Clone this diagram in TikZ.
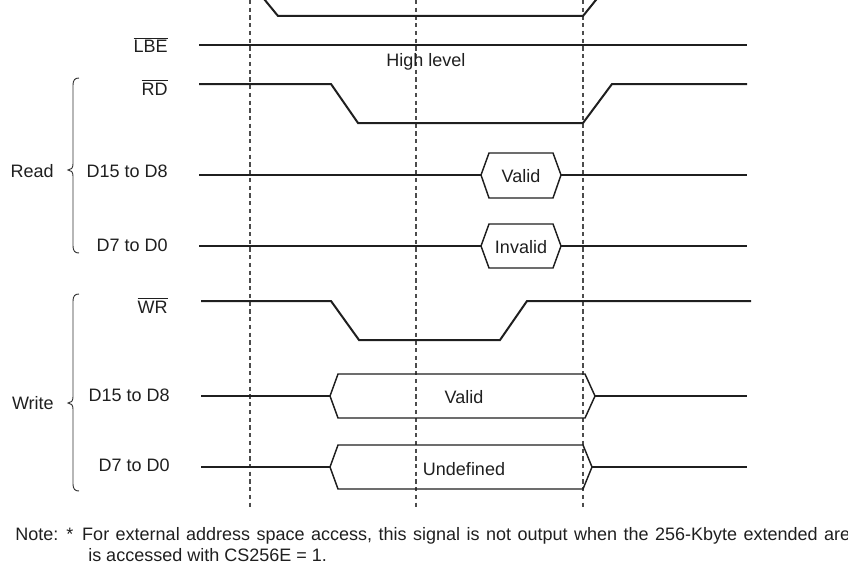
\documentclass[tikz,border=0pt]{standalone}
\usepackage{fontspec}
\setmainfont{Liberation Sans}
\usetikzlibrary{positioning}

\begin{document}
\begin{tikzpicture}[x=0.75pt, y=-0.75pt,
  sig/.style={line width=1.5pt, draw=black!88},
  bus/.style={line width=1.1pt, draw=black!88},
  guide/.style={line width=0.8pt, draw=black!70, dash pattern=on 3.2pt off 2.6pt},
  curly/.style={line width=0.7pt, draw=black!80},
  signame/.style={anchor=base east, inner sep=0pt,
                  font=\fontsize{13.5}{16}\selectfont, text=black!88},
  busval/.style={signame, anchor=base},
  note/.style={signame, anchor=base west}
]
\useasboundingbox (0,0) rectangle (848,567);
\draw[guide] (250,0) -- (250,510);
\draw[guide] (416,0) -- (416,510);
\draw[guide] (583,0) -- (583,510);
\begin{scope}
  \clip (0,0) rectangle (848,567);
  \draw[sig] (255,-12) -- (278,16) -- (583,16) -- (604,-10);
\end{scope}
\node[signame] (lbe) at (168,53) {$\overline{\mbox{LBE}}$};
\draw[sig] (199,45) -- (747,45);
\node[busval] (high) at (426,66) {High level};
\node[signame] (rd) at (168,95) {$\overline{\mbox{RD}}$};
\draw[sig] (199,84) -- (331,84) -- (358,123) -- (583,123) -- (612,84) -- (747,84);
\node[signame] (rdhi) at (168,177) {D15 to D8};
\draw[sig] (199,175) -- (481,175);
\draw[bus] (481,175) -- (489,153) -- (553,153) -- (561,175) -- (553,198) -- (489,198) -- cycle;
\draw[sig] (561,175) -- (747,175);
\node[busval] (rdhival) at (521,182) {Valid};
\node[signame] (rdlo) at (168,251) {D7 to D0};
\draw[sig] (199,246) -- (481,246);
\draw[bus] (481,246) -- (489,224) -- (553,224) -- (561,246) -- (553,268) -- (489,268) -- cycle;
\draw[sig] (561,246) -- (747,246);
\node[busval] (rdloval) at (521,253) {Invalid};
\node[signame] (read) at (54,177) {Read};
\draw[curly] (79,78) .. controls (75,78) and (73,80) .. (73,85) -- (73,164)
  .. controls (73,168) and (71,170) .. (68,170) .. controls (71,170) and (73,172) .. (73,176)
  -- (73,246) .. controls (73,251) and (75,253) .. (79,253);
\node[signame] (wr) at (168,313) {$\overline{\mbox{WR}}$};
\draw[sig] (201,301) -- (331,301) -- (359,340) -- (500,340) -- (527,301) -- (751,301);
\node[signame] (wrhi) at (170,401) {D15 to D8};
\draw[sig] (201,396) -- (330,396);
\draw[bus] (330,396) -- (338,374) -- (585,374) -- (595,396) -- (585,418) -- (338,418) -- cycle;
\draw[sig] (595,396) -- (747,396);
\node[busval] (wrhival) at (464,403) {Valid};
\node[signame] (wrlo) at (170,471) {D7 to D0};
\draw[sig] (201,467) -- (330,467);
\draw[bus] (330,467) -- (338,445) -- (583,445) -- (592,467) -- (583,489) -- (338,489) -- cycle;
\draw[sig] (592,467) -- (747,467);
\node[busval] (wrloval) at (464,475) {Undefined};
\node[signame] (write) at (54,409) {Write};
\draw[curly] (79,294) .. controls (75,294) and (73,296) .. (73,301) -- (73,397)
  .. controls (73,401) and (71,403) .. (68,403) .. controls (71,403) and (73,405) .. (73,409)
  -- (73,484) .. controls (73,489) and (75,491) .. (79,491);
\node[note] (notes) at (15,540)
  {\begin{tabular}[t]{@{}l@{}l@{}}
   \makebox[50.25pt][l]{Note:\hspace{6pt}*} &
     {\spaceskip=4.85pt For external address space access, this signal is not output when the 256-Kbyte extended area}\\
   & \hspace{4.5pt}is accessed with CS256E = 1.
   \end{tabular}};
\end{tikzpicture}
\end{document}
